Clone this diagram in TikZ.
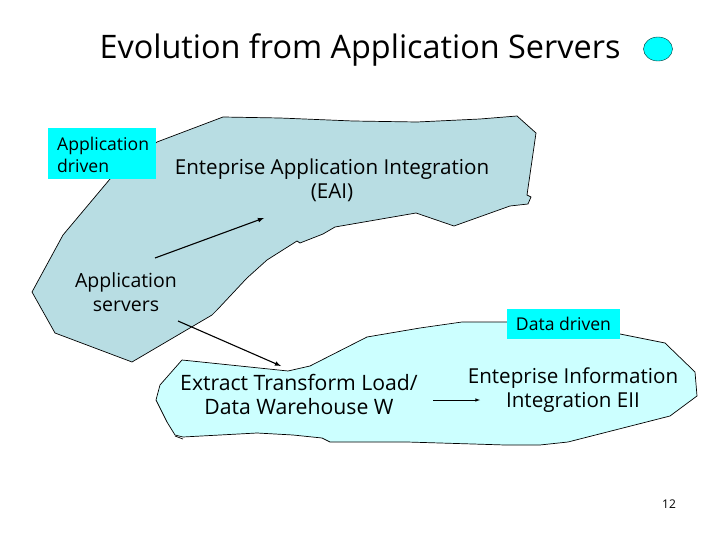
\documentclass[tikz,border=0pt]{standalone}
\usepackage{fontspec}
\setmainfont{Open Sans}
\usetikzlibrary{shapes.geometric}
\usetikzlibrary{arrows.meta}
\definecolor{eaiblue}{RGB}{184,221,227}
\definecolor{etlblue}{RGB}{204,255,255}
\definecolor{tagcyan}{RGB}{0,255,255}
\tikzset{
    blobeai/.style = {draw=black,line width=0.7pt,fill=eaiblue},
    blobetl/.style = {draw=black,line width=0.7pt,fill=etlblue},
    tagbox/.style = {rectangle,fill=tagcyan,inner sep=0pt,font=\fontsize{17.6}{22}\selectfont},
    mytext/.style = {align=center,inner sep=0pt,font=\fontsize{20.6}{24}\selectfont},
    edgen/.style = {-latex,line width=1.1pt},
    edget/.style = {-latex,line width=0.6pt},
}

\begin{document}
\begin{tikzpicture}[x=1pt,y=-1pt]
  \useasboundingbox (0,0) rectangle (720,540);

  % shapes
  \draw[blobeai] (157,142) -- (223,117) -- (280,118) -- (353,121) -- (417,122) -- (480,119)
    -- (517,116) -- (536,133) -- (527,195) -- (531,197) -- (528,204) -- (510,206) -- (454,226)
    -- (416,213) -- (335,227) -- (323,234) -- (300,243) -- (297,241) -- (267,260) -- (247,278)
    -- (217,310) -- (212,315) -- (132,362) -- (55,333) -- (32,292) -- (63,235) -- (110,179) -- cycle;
  \draw[blobetl] (182,360) -- (288,371) -- (310,366) -- (367,337) -- (420,328) -- (462,322)
    -- (507,322) -- (620,334) -- (665,343) -- (695,372) -- (697,396) -- (670,416) -- (568,442)
    -- (540,445) -- (505,445) -- (473,444) -- (440,443) -- (407,442) -- (330,442) -- (322,438)
    -- (293,435) -- (257,433) -- (183,437) -- (175,435) -- (167,422) -- (156,400) -- (160,385) -- cycle;
  \draw[line width=0.7pt] (175,436) -- (183,439);
  \node[draw=black!80!tagcyan,fill=tagcyan,ellipse,minimum width=29pt,minimum height=24pt,inner sep=0pt] (dot) at (658,49) {};

  % labels
  \node[inner sep=0pt,font=\fontsize{32.4}{36}\selectfont] (title) at (360,50) {Evolution from Application Servers};
  \node[tagbox,minimum width=108pt,minimum height=51pt] (appbox) at (102,153.5) {};
  \node[tagbox,align=left,anchor=west] (apptxt) at (57,155) {Application\\driven};
  \node[tagbox,minimum width=113pt,minimum height=30pt] (databox) at (563.5,324) {Data driven};
  \node[mytext] (eai) at (332,180) {Enteprise Application Integration\\(EAI)};
  \node[mytext,font=\fontsize{19.5}{24}\selectfont] (servers) at (126,292) {Application\\servers};
  \node[mytext,font=\fontsize{21.2}{24}\selectfont] (etl) at (299,394) {Extract Transform Load/\\Data Warehouse W};
  \node[mytext] (eii) at (573,390) {Enteprise Information\\Integration EII};
  \node[inner sep=0pt,font=\fontsize{12}{14}\selectfont] (pagenum) at (669,504) {12};

  % arrows
  \coordinate (a1) at (155,258);
  \coordinate (a2) at (264,218);
  \coordinate (b1) at (178,321);
  \coordinate (b2) at (281,366);
  \coordinate (c1) at (433,400);
  \coordinate (c2) at (480,400);
  \draw[edgen] (a1) -- (a2);
  \draw[edgen] (b1) -- (b2);
  \draw[edget] (c1) -- (c2);
\end{tikzpicture}
\end{document}
